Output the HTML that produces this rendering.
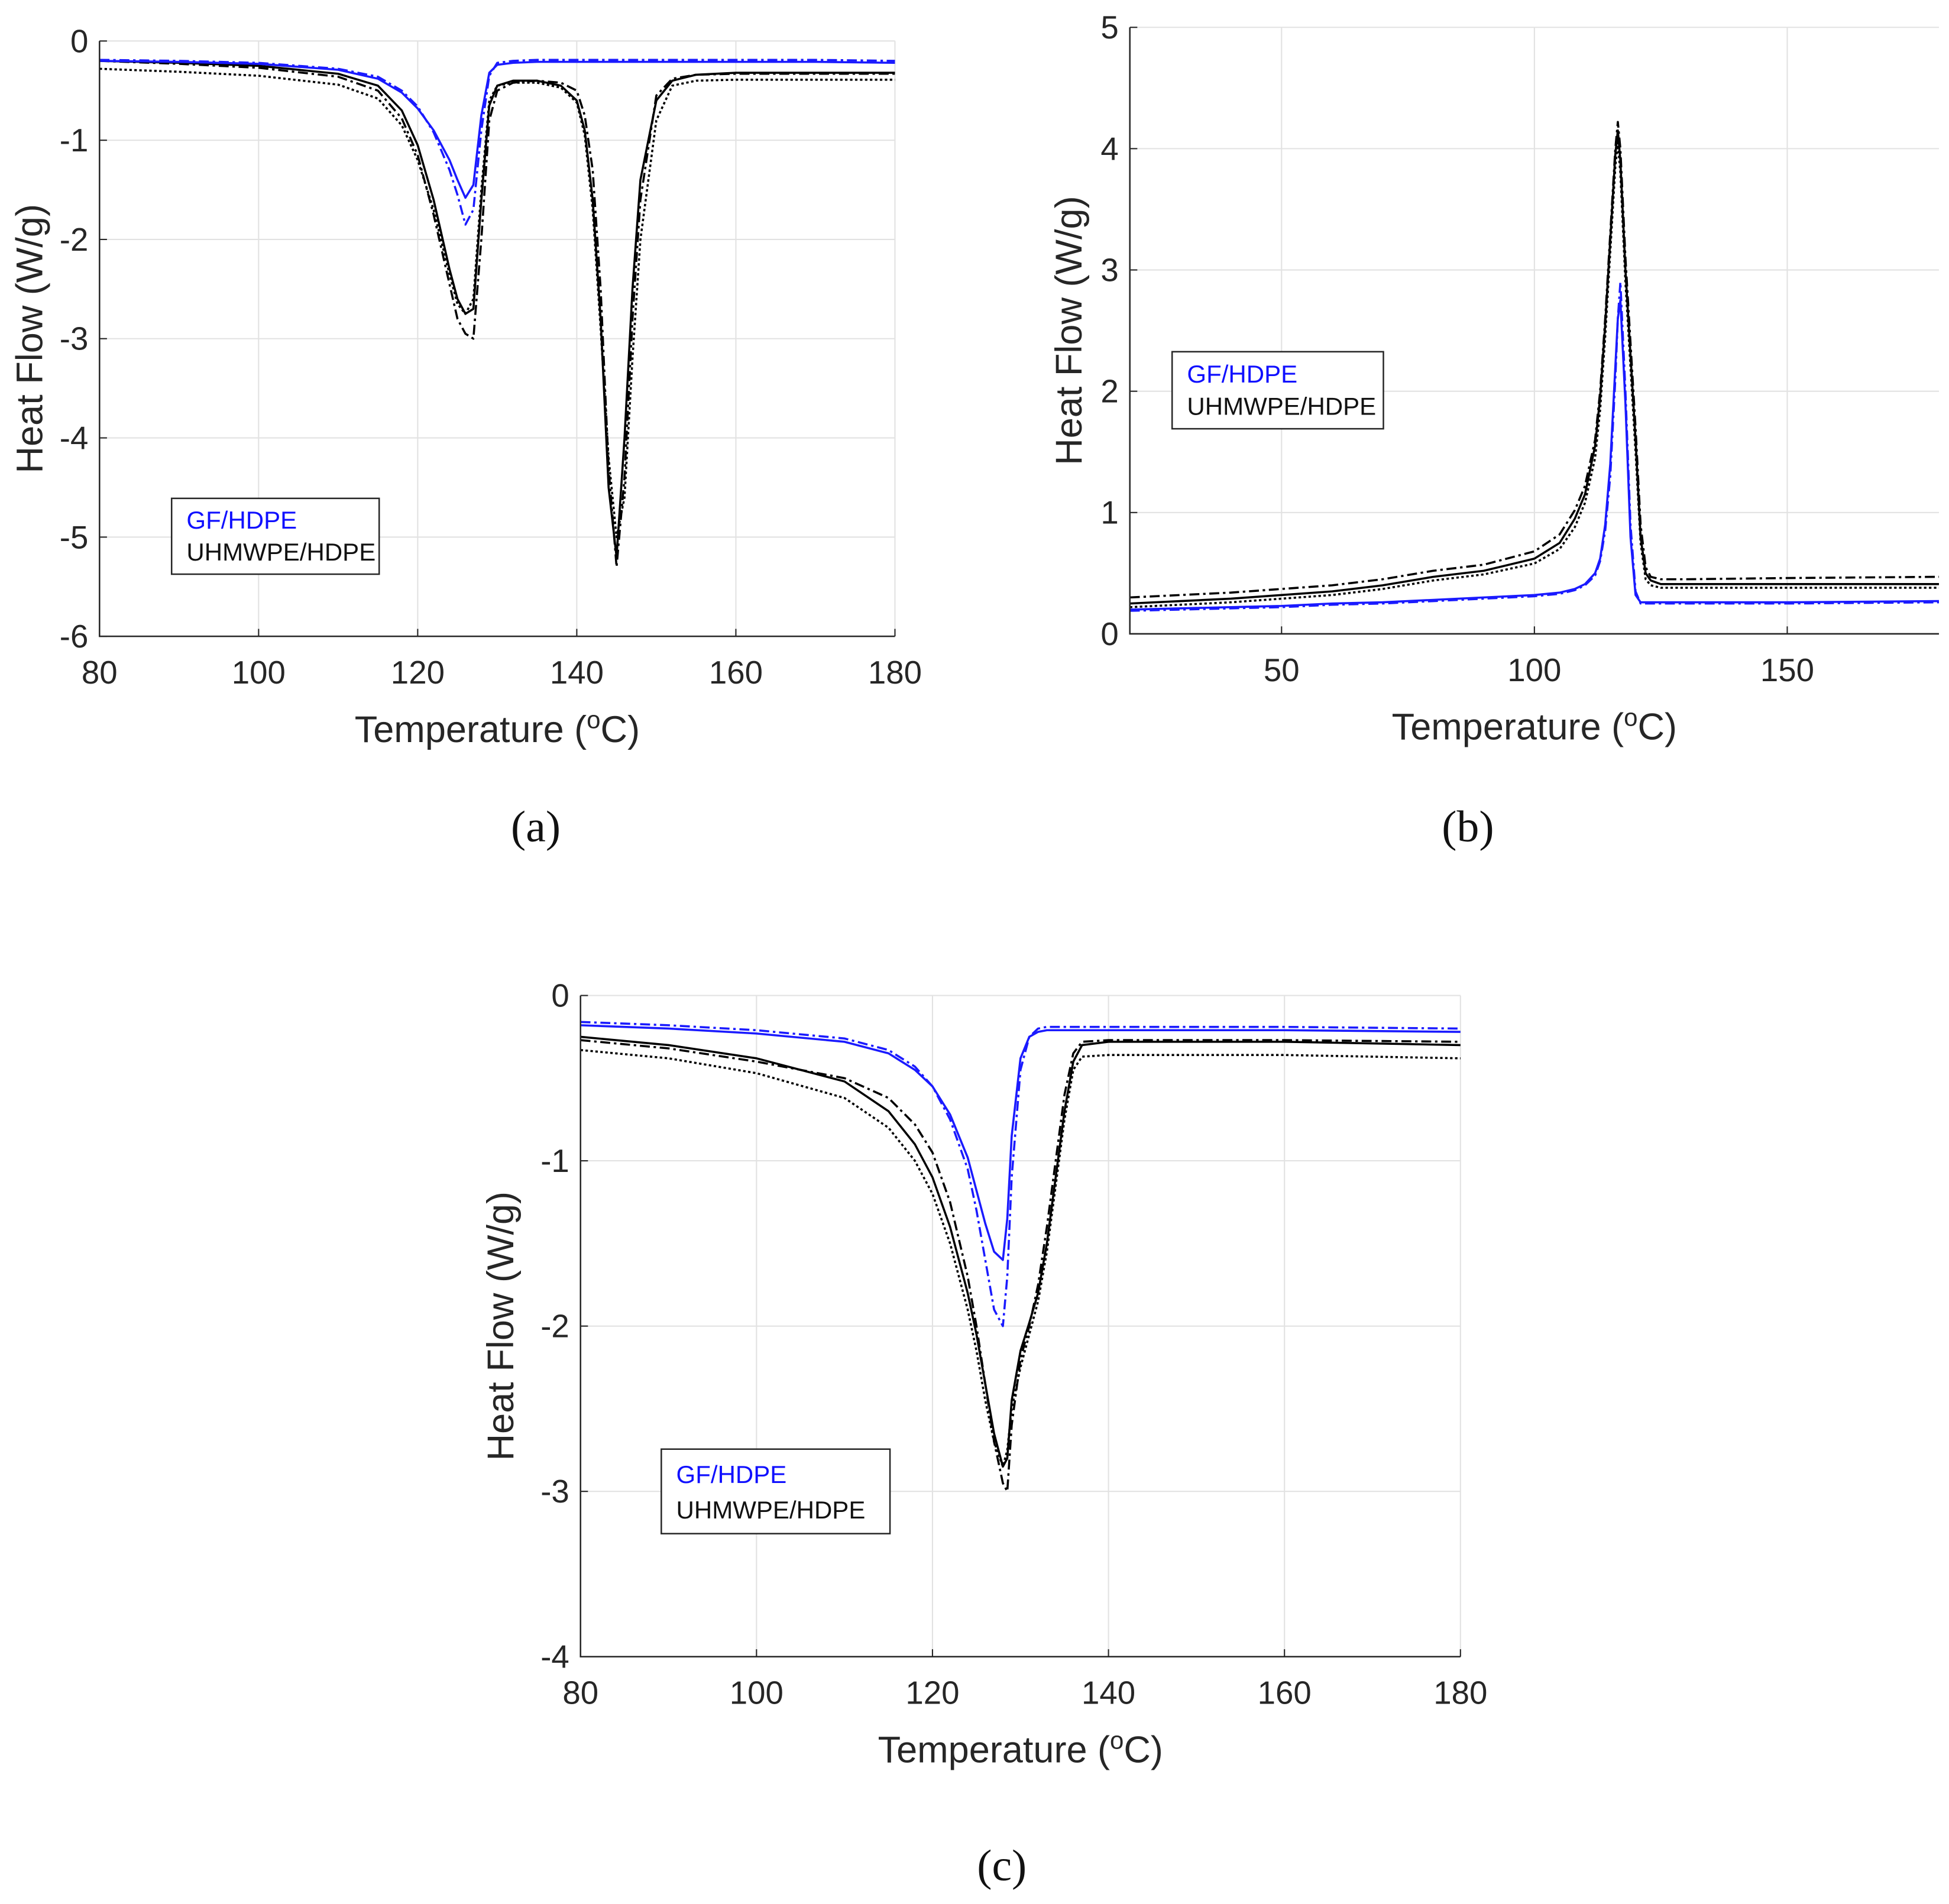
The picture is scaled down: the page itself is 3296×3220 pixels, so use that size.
<!DOCTYPE html>
<html><head><meta charset="utf-8"><style>
html,body{margin:0;padding:0;background:#fff;}
svg{display:block;}
text{font-family:"Liberation Sans",sans-serif;}
text.serif{font-family:"Liberation Serif",serif;}
</style></head><body>
<svg id="fig" width="3296" height="3220" viewBox="0 0 1568 1532" xmlns="http://www.w3.org/2000/svg"></svg>
<script>
// ---------- data: chart (a) melting ----------
const aTemps = [80,90,100,110,115,118,120,122,124,125,126,127,128,129,130,132,135,138,140,141,142,143,144,145,146,147,148,150,152,155,160,170,180];
const aBlack1 = [-0.2,-0.22,-0.25,-0.33,-0.45,-0.7,-1.05,-1.6,-2.3,-2.6,-2.75,-2.7,-1.6,-0.65,-0.45,-0.4,-0.4,-0.45,-0.6,-0.9,-1.6,-2.8,-4.5,-5.2,-4.0,-2.5,-1.4,-0.6,-0.4,-0.34,-0.32,-0.32,-0.32];
const aBlack2 = [-0.2,-0.23,-0.27,-0.36,-0.5,-0.78,-1.15,-1.75,-2.45,-2.8,-2.95,-3.0,-2.0,-0.8,-0.5,-0.42,-0.4,-0.42,-0.5,-0.75,-1.3,-2.5,-4.3,-5.3,-4.4,-2.8,-1.6,-0.55,-0.38,-0.34,-0.33,-0.33,-0.33];
const aBlack3 = [-0.28,-0.31,-0.35,-0.44,-0.58,-0.85,-1.2,-1.7,-2.35,-2.65,-2.75,-2.6,-1.5,-0.6,-0.45,-0.42,-0.42,-0.47,-0.62,-0.95,-1.7,-2.9,-4.2,-5.0,-4.6,-3.2,-2.0,-0.8,-0.45,-0.4,-0.39,-0.39,-0.39];
const aBlue1 = [-0.2,-0.21,-0.23,-0.29,-0.38,-0.52,-0.68,-0.9,-1.2,-1.4,-1.58,-1.45,-0.75,-0.32,-0.24,-0.22,-0.21,-0.21,-0.21,-0.21,-0.21,-0.21,-0.21,-0.21,-0.21,-0.21,-0.21,-0.21,-0.21,-0.21,-0.21,-0.21,-0.22];
const aBlue2 = [-0.19,-0.2,-0.22,-0.28,-0.36,-0.5,-0.66,-0.92,-1.3,-1.55,-1.85,-1.7,-0.9,-0.35,-0.22,-0.2,-0.19,-0.19,-0.19,-0.19,-0.19,-0.19,-0.19,-0.19,-0.19,-0.19,-0.19,-0.19,-0.19,-0.19,-0.19,-0.19,-0.2];
// ---------- data: chart (b) crystallization ----------
const bTemps = [20,30,40,50,60,70,80,90,100,105,108,110,112,113,114,115,116,116.5,117,118,119,120,121,122,123,125,130,150,180];
const bBlack1 = [0.25,0.27,0.29,0.32,0.35,0.4,0.47,0.52,0.62,0.75,0.95,1.15,1.55,1.95,2.55,3.25,3.95,4.15,3.9,3.0,2.3,1.6,0.8,0.5,0.44,0.41,0.41,0.41,0.41];
const bBlack2 = [0.3,0.32,0.34,0.37,0.4,0.45,0.52,0.57,0.68,0.82,1.02,1.22,1.6,2.0,2.6,3.3,4.0,4.22,4.0,3.1,2.4,1.7,0.9,0.55,0.47,0.45,0.45,0.46,0.47];
const bBlack3 = [0.22,0.24,0.26,0.29,0.32,0.37,0.44,0.49,0.58,0.7,0.88,1.08,1.45,1.85,2.45,3.15,3.85,4.05,3.8,2.9,2.2,1.5,0.75,0.45,0.4,0.38,0.38,0.38,0.38];
const bBlue1 = [0.2,0.21,0.22,0.23,0.25,0.26,0.28,0.3,0.32,0.34,0.37,0.41,0.5,0.62,0.9,1.4,2.2,2.6,2.75,1.9,0.8,0.32,0.26,0.26,0.26,0.26,0.26,0.26,0.27];
const bBlue2 = [0.19,0.2,0.21,0.22,0.24,0.25,0.27,0.29,0.31,0.33,0.36,0.4,0.48,0.6,0.85,1.3,2.1,2.6,2.9,2.0,0.9,0.35,0.25,0.25,0.25,0.25,0.25,0.25,0.26];
// ---------- data: chart (c) second melting ----------
const cTemps = [80,90,100,110,115,118,120,122,124,125,126,127,128,128.5,129,130,131,132,133,134,135,136,137,140,150,160,180];
const cBlack1 = [-0.25,-0.3,-0.38,-0.52,-0.7,-0.9,-1.1,-1.4,-1.8,-2.05,-2.35,-2.65,-2.85,-2.8,-2.45,-2.15,-1.98,-1.8,-1.5,-1.1,-0.7,-0.4,-0.3,-0.28,-0.28,-0.28,-0.3];
const cBlack2 = [-0.27,-0.32,-0.4,-0.5,-0.62,-0.78,-0.95,-1.25,-1.7,-2.0,-2.35,-2.7,-2.95,-3.0,-2.6,-2.2,-2.0,-1.75,-1.4,-1.0,-0.6,-0.35,-0.28,-0.27,-0.27,-0.27,-0.28];
const cBlack3 = [-0.33,-0.38,-0.47,-0.62,-0.8,-1.0,-1.2,-1.5,-1.9,-2.15,-2.45,-2.7,-2.85,-2.75,-2.5,-2.25,-2.05,-1.85,-1.55,-1.15,-0.75,-0.45,-0.37,-0.36,-0.36,-0.36,-0.38];
const cBlue1 = [-0.18,-0.2,-0.23,-0.28,-0.35,-0.45,-0.55,-0.72,-0.98,-1.18,-1.38,-1.55,-1.6,-1.35,-0.85,-0.38,-0.25,-0.22,-0.21,-0.21,-0.21,-0.21,-0.21,-0.21,-0.21,-0.21,-0.22];
const cBlue2 = [-0.16,-0.18,-0.21,-0.26,-0.33,-0.43,-0.55,-0.75,-1.05,-1.3,-1.6,-1.9,-2.0,-1.7,-1.1,-0.45,-0.25,-0.2,-0.19,-0.19,-0.19,-0.19,-0.19,-0.19,-0.19,-0.19,-0.2];
// ---------- tick labels ----------
const aXTicks = [80,100,120,140,160,180];
const aYTicks = [0,-1,-2,-3,-4,-5,-6];
const bXTicks = [50,100,150];
const bYTicks = [0,1,2,3,4,5];
const cXTicks = [80,100,120,140,160,180];
const cYTicks = [0,-1,-2,-3,-4];

const NS="http://www.w3.org/2000/svg";
const svg=document.getElementById('fig');
function el(tag,attrs,parent){const e=document.createElementNS(NS,tag);for(const k in attrs)e.setAttribute(k,attrs[k]);(parent||svg).appendChild(e);return e;}

function chart(cfg){
  const g=el('g',{});
  
  
  const sx=v=>cfg.x0+(v-cfg.xmin)/(cfg.xmax-cfg.xmin)*(cfg.x1-cfg.x0);
  const sy=v=>cfg.y0+(v-cfg.ymin)/(cfg.ymax-cfg.ymin)*(cfg.y1-cfg.y0);
  cfg.xt.forEach(t=>{const l=el('line',{x1:sx(t),x2:sx(t),y1:cfg.y1,y2:cfg.y0,stroke:'#e2e2e2','stroke-width':1},g);
    });
  cfg.yt.forEach(t=>{const l=el('line',{x1:cfg.x0,x2:cfg.x1,y1:sy(t),y2:sy(t),stroke:'#e2e2e2','stroke-width':1},g);
    });
  cfg.series.forEach(s=>{
    let d='';cfg.temps.forEach((t,i)=>{d+=(i?'L':'M')+sx(t).toFixed(2)+','+sy(s.v[i]).toFixed(2);});
    const p=el('path',{d:d,fill:'none',stroke:s.c,'stroke-width':1.7,'stroke-dasharray':s.dash||'none','stroke-linejoin':'round'},g);
    
  });
  const ax=el('path',{d:`M${cfg.x0},${cfg.y1}L${cfg.x0},${cfg.y0}L${cfg.x1},${cfg.y0}`,fill:'none',stroke:'#262626','stroke-width':1.2},g);
  
  cfg.xt.forEach(t=>{el('line',{x1:sx(t),x2:sx(t),y1:cfg.y0,y2:cfg.y0-6,stroke:'#262626'},g);
    const tx=el('text',{x:sx(t),y:cfg.y0+38,'font-size':26,'text-anchor':'middle',fill:'#262626'},g);tx.textContent=t;
    });
  cfg.yt.forEach(t=>{el('line',{x1:cfg.x0,x2:cfg.x0+6,y1:sy(t),y2:sy(t),stroke:'#262626'},g);
    const tx=el('text',{x:cfg.x0-9,y:sy(t)+9,'font-size':26,'text-anchor':'end',fill:'#262626'},g);tx.textContent=t;
    });
  const xt=el('text',{x:(cfg.x0+cfg.x1)/2,y:cfg.y0+85,'font-size':30,'text-anchor':'middle',fill:'#262626'},g);
  xt.innerHTML='Temperature (<tspan dy="-11" font-size="20">o</tspan><tspan dy="11">C)</tspan>';
  
  const yt=el('text',{x:0,y:0,'font-size':30,'text-anchor':'middle',fill:'#262626',transform:`translate(${cfg.ytx},${(cfg.y0+cfg.y1)/2+cfg.yoff}) rotate(-90)`},g);
  yt.textContent='Heat Flow (W/g)';
  
  const L=cfg.leg;
  const lg=el('g',{},g);
  el('rect',{x:L[0],y:L[1],width:L[2],height:L[3],fill:'#fff',stroke:'#262626','stroke-width':1.2},lg);
  const t1=el('text',{x:L[0]+12,y:L[1]+L[3]*0.4,'font-size':20,fill:'#1010ff'},lg);t1.textContent='GF/HDPE';
  
  const t2=el('text',{x:L[0]+12,y:L[1]+L[3]*0.82,'font-size':20,fill:'#111'},lg);t2.textContent='UHMWPE/HDPE';
  
  const cap=el('text',{x:cfg.cap[0],y:cfg.cap[1],'font-size':36,'text-anchor':'middle',fill:'#111','class':'serif'},g);
  cap.textContent=cfg.capText;
}
const B='#1a1aff',K='#000';
chart({name:'chart-a',x0:80,x1:720,xmin:80,xmax:180,y0:512,y1:33,ymin:-6,ymax:0,temps:aTemps,xt:aXTicks,yt:aYTicks,ytx:34,yoff:0,
  series:[{n:'uhmwpe-solid',v:aBlack1,c:K},{n:'uhmwpe-dashdot',v:aBlack2,c:K,dash:'8 3 2 3'},{n:'uhmwpe-dotted',v:aBlack3,c:K,dash:'2 2'},
          {n:'gf-solid',v:aBlue1,c:B},{n:'gf-dashdot',v:aBlue2,c:B,dash:'8 3 2 3'}],
  leg:[138,401,167,61],cap:[431,677],capText:'(a)'});
chart({name:'chart-b',x0:909,x1:1560,xmin:20,xmax:180,y0:510,y1:22,ymin:0,ymax:5,temps:bTemps,xt:bXTicks,yt:bYTicks,ytx:870,yoff:0,
  series:[{n:'uhmwpe-solid',v:bBlack1,c:K},{n:'uhmwpe-dashdot',v:bBlack2,c:K,dash:'8 3 2 3'},{n:'uhmwpe-dotted',v:bBlack3,c:K,dash:'2 2'},
          {n:'gf-solid',v:bBlue1,c:B},{n:'gf-dashdot',v:bBlue2,c:B,dash:'8 3 2 3'}],
  leg:[943,283,170,62],cap:[1181,677],capText:'(b)'});
chart({name:'chart-c',x0:467,x1:1175,xmin:80,xmax:180,y0:1333,y1:801,ymin:-4,ymax:0,temps:cTemps,xt:cXTicks,yt:cYTicks,ytx:413,yoff:0,
  series:[{n:'uhmwpe-solid',v:cBlack1,c:K},{n:'uhmwpe-dashdot',v:cBlack2,c:K,dash:'8 3 2 3'},{n:'uhmwpe-dotted',v:cBlack3,c:K,dash:'2 2'},
          {n:'gf-solid',v:cBlue1,c:B},{n:'gf-dashdot',v:cBlue2,c:B,dash:'8 3 2 3'}],
  leg:[532,1166,184,68],cap:[806,1513],capText:'(c)'});
</script>
</body></html>
